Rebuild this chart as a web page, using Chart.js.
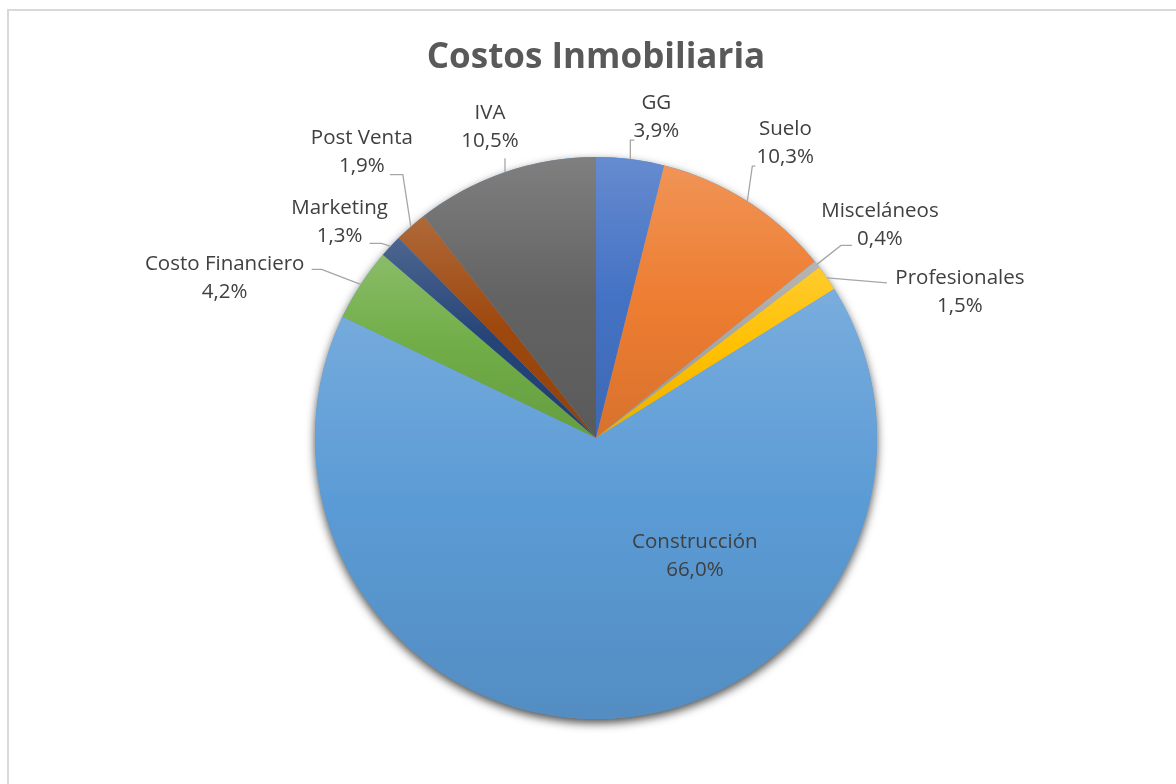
<!DOCTYPE html>
<html>
<head>
<meta charset="utf-8">
<script src="https://cdn.jsdelivr.net/npm/chart.js@4.4.1/dist/chart.umd.min.js"></script>
<style>
  html, body { margin: 0; padding: 0; background: #ffffff; }
  #wrap { width: 1176px; height: 784px; position: relative; }
</style>
</head>
<body>
<div id="wrap"><canvas id="c" width="1176" height="784"></canvas></div>
<script>
// ---- data ----
const categories = ["GG", "Suelo", "Misceláneos", "Profesionales", "Construcción", "Costo Financiero", "Marketing", "Post Venta", "IVA"];
const percentValues = [3.9, 10.3, 0.4, 1.5, 66.0, 4.2, 1.3, 1.9, 10.5];
const chartTitle = "Costos Inmobiliaria";

// ---- styles ----
const baseColors = ["#4472C4", "#ED7D31", "#A5A5A5", "#FFC000", "#5B9BD5", "#70AD47", "#264478", "#9E480E", "#636363"];
// label center offset from slice outer midpoint, and leader-line points (relative to that midpoint)
const labelOffsets = [[26,-42],[38,-58],[63,-39],[133,14],[83,-162],[-136,-6],[-51,-24],[-49,-74],[-15,-45]];
const leaderPoints = [
  [[0,-19],[4,-19]],
  [[5,-35],[8,-35]],
  [[24,-19],[35,-19]],
  [[60,5]],
  null,
  [[-39,-15],[-49,-15]],
  [[-9,-3],[-21,-3]],
  [[-8,-52],[-21,-52]],
  [[0,-14]]
];

function hexToRgb(h){ const n=parseInt(h.slice(1),16); return [(n>>16)&255,(n>>8)&255,n&255]; }
function mix(rgb, t, target){ return rgb.map((c,i)=>Math.round(c+(target[i]-c)*t)); }
function rgbStr(a){ return `rgb(${a[0]},${a[1]},${a[2]})`; }

function sliceGradient(context){
  const chart = context.chart;
  const ca = chart.chartArea;
  const i = context.dataIndex;
  const base = hexToRgb(baseColors[i]);
  if (!ca) return baseColors[i];
  const cx = (ca.left+ca.right)/2, cy = (ca.top+ca.bottom)/2;
  const r = Math.min(ca.right-ca.left, ca.bottom-ca.top)/2;
  const total = percentValues.reduce((a,b)=>a+b,0);
  let before = 0; for (let k=0;k<i;k++) before += percentValues[k];
  const a0 = -Math.PI/2 + before/total*2*Math.PI;
  const a1 = a0 + percentValues[i]/total*2*Math.PI;
  let ys = [cy, cy + r*Math.sin(a0), cy + r*Math.sin(a1)];
  const within = (ang)=>{ let a=ang; while(a<a0) a+=2*Math.PI; return a<=a1; };
  if (within(-Math.PI/2)) ys.push(cy-r);
  if (within(Math.PI/2)) ys.push(cy+r);
  const y0 = Math.min(...ys), y1 = Math.max(...ys);
  const g = chart.ctx.createLinearGradient(0, y0, 0, Math.max(y1, y0+1));
  g.addColorStop(0, rgbStr(mix(base, 0.18, [255,255,255])));
  g.addColorStop(0.5, rgbStr(base));
  g.addColorStop(1, rgbStr(mix(base, 0.09, [0,0,0])));
  return g;
}

const framePlugin = {
  id: 'frame',
  beforeDraw(chart){
    const ctx = chart.ctx;
    ctx.save();
    ctx.strokeStyle = '#d9d9d9';
    ctx.lineWidth = 2;
    ctx.strokeRect(8, 10, 3000, 3000);
    ctx.restore();
  },
  beforeDatasetsDraw(chart){
    const arc = chart.getDatasetMeta(0).data[0];
    if (!arc) return;
    const ctx = chart.ctx;
    ctx.save();
    ctx.shadowColor = 'rgba(0,0,0,0.7)';
    ctx.shadowBlur = 10;
    ctx.shadowOffsetY = 4;
    ctx.fillStyle = '#5b9bd5';
    ctx.beginPath();
    ctx.arc(arc.x, arc.y, arc.outerRadius, 0, Math.PI*2);
    ctx.fill();
    ctx.restore();
  }
};

const labelPlugin = {
  id: 'pieLabels',
  afterDatasetsDraw(chart){
    const ctx = chart.ctx;
    const meta = chart.getDatasetMeta(0);
    ctx.save();
    ctx.font = '20.5px "Open Sans", sans-serif';
    ctx.fillStyle = '#404040';
    ctx.textAlign = 'center';
    ctx.textBaseline = 'middle';
    meta.data.forEach((el, i) => {
      const mid = (el.startAngle + el.endAngle)/2;
      const px = el.x + el.outerRadius*Math.cos(mid);
      const py = el.y + el.outerRadius*Math.sin(mid);
      const lp = leaderPoints[i];
      if (lp) {
        ctx.strokeStyle = '#a6a6a6';
        ctx.lineWidth = 1.3;
        ctx.beginPath();
        ctx.moveTo(px, py);
        lp.forEach(p => ctx.lineTo(px+p[0], py+p[1]));
        ctx.stroke();
      }
      const lx = px + labelOffsets[i][0];
      const ly = py + labelOffsets[i][1];
      ctx.fillText(categories[i], lx, ly - 14);
      ctx.fillText(percentValues[i].toFixed(1).replace('.', ',') + '%', lx, ly + 14);
    });
    ctx.restore();
  }
};

new Chart(document.getElementById('c'), {
  type: 'pie',
  data: {
    labels: categories,
    datasets: [{
      data: percentValues,
      backgroundColor: sliceGradient,
      borderWidth: 0
    }]
  },
  options: {
    responsive: false,
    animation: false,
    layout: { padding: { left: 315, right: 299, top: 0, bottom: 65 } },
    plugins: {
      legend: { display: false },
      tooltip: { enabled: false },
      title: {
        display: true,
        text: chartTitle,
        color: '#595959',
        font: { family: '"Open Sans", sans-serif', size: 35, weight: 'bold', lineHeight: 1.2 },
        padding: { top: 37, bottom: 78 }
      }
    }
  },
  plugins: [framePlugin, labelPlugin]
});
</script>
</body>
</html>
